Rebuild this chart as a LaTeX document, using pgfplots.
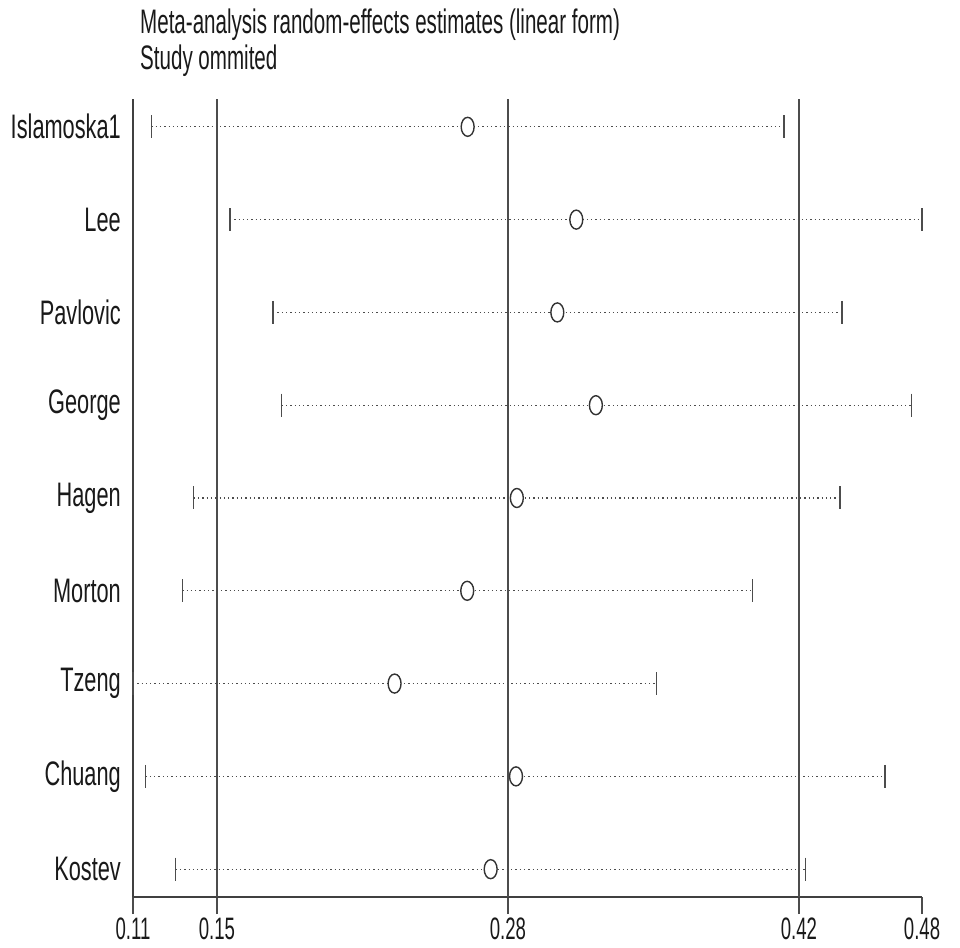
\documentclass[border=0pt]{standalone}
\usepackage{pgfplots}
\pgfplotsset{compat=1.18}
\usepackage{pgfplotstable}
\usepackage{fontspec}
\setmainfont{Liberation Sans}
\usepackage{graphicx}
\newcommand\sy[1]{\scalebox{0.64}[1]{#1}}
\newcommand\sxt[1]{\scalebox{0.60}[1]{#1}}
\newcommand\st[1]{\scalebox{0.605}[1]{#1}}
\pgfplotstableread{
y lo est hi
9 0.1157 0.2642 0.4128
8 0.1526 0.3152 0.4775
7 0.1729 0.3063 0.4399
6 0.1769 0.3244 0.4727
5 0.1356 0.2873 0.4390
4 0.1302 0.2640 0.3980
3 0.1071 0.2299 0.3529
2 0.1130 0.2869 0.4601
1 0.1271 0.2750 0.4229
}\studies
\begin{document}
\begin{tikzpicture}
\begin{axis}[
  scale only axis, width=789pt, height=798pt,
  xmin=0.1071, xmax=0.4775, ymin=0.7, ymax=9.3,
  axis x line*=bottom, axis y line*=left,
  axis line style={line width=1.5pt, black!75, -},
  xtick={0.1071,0.1465,0.2831,0.4197,0.4775},
  xticklabels={\sxt{0.11},\sxt{0.15},\sxt{0.28},\sxt{0.42},\sxt{0.48}},
  ytick={1,2,3,4,5,6,7,8,9},
  yticklabels={\sy{Kostev},\sy{Chuang},\sy{Tzeng},\sy{Morton},\sy{Hagen},\sy{George},\sy{Pavlovic},\sy{Lee},\sy{Islamoska1}},
  xtick align=outside, major tick length=17pt,
  xtick style={line width=1.4pt, black!70},
  ytick style={draw=none},
  yticklabel style={inner sep=0pt, xshift=-12pt, font=\fontsize{34}{38}\selectfont, text=black!90},
  xticklabel style={inner sep=0pt, yshift=-4pt, font=\fontsize{31}{35}\selectfont, text=black!90},
  clip=false,
]
% reference lines
\addplot[black!70, line width=1.5pt] coordinates {(0.1465,0.7) (0.1465,9.3)};
\addplot[black!70, line width=1.5pt] coordinates {(0.2831,0.7) (0.2831,9.3)};
\addplot[black!70, line width=1.5pt] coordinates {(0.4197,0.7) (0.4197,9.3)};
% dotted CI lines
\pgfplotsset{cil/.style={black!70, line width=1.3pt, dash pattern=on 1.3pt off 3pt}}
\addplot[cil] coordinates {(0.1157,9) (0.4128,9)};
\addplot[cil] coordinates {(0.1526,8) (0.4775,8)};
\addplot[cil] coordinates {(0.1729,7) (0.4399,7)};
\addplot[cil] coordinates {(0.1769,6) (0.4727,6)};
\addplot[cil] coordinates {(0.1356,5) (0.4390,5)};
\addplot[cil] coordinates {(0.1302,4) (0.3980,4)};
\addplot[cil] coordinates {(0.1071,3) (0.3529,3)};
\addplot[cil] coordinates {(0.1130,2) (0.4601,2)};
\addplot[cil] coordinates {(0.1271,1) (0.4229,1)};
% caps
\addplot[only marks, mark=|, mark size=11.5pt, mark options={line width=1.4pt, black!70}] table[x=lo, y=y] {\studies};
\addplot[only marks, mark=|, mark size=11.5pt, mark options={line width=1.4pt, black!70}] table[x=hi, y=y] {\studies};
% estimates
\addplot[only marks, mark=*, mark size=9.5pt, mark options={fill=white, draw=black!80, line width=1.4pt, xscale=0.68}] table[x=est, y=y] {\studies};
\end{axis}
\node[anchor=base west, inner sep=0pt, font=\fontsize{34}{38}\selectfont, text=black!90] at ([xshift=7pt, yshift=65pt]current axis.north west) {\st{Meta-analysis random-effects estimates (linear form)}};
\node[anchor=base west, inner sep=0pt, font=\fontsize{34}{38}\selectfont, text=black!90] at ([xshift=7pt, yshift=29pt]current axis.north west) {\st{Study ommited}};
\path ([xshift=-133pt, yshift=-50pt]current axis.south west) rectangle ++(960pt, 947pt);
\end{tikzpicture}
\end{document}
